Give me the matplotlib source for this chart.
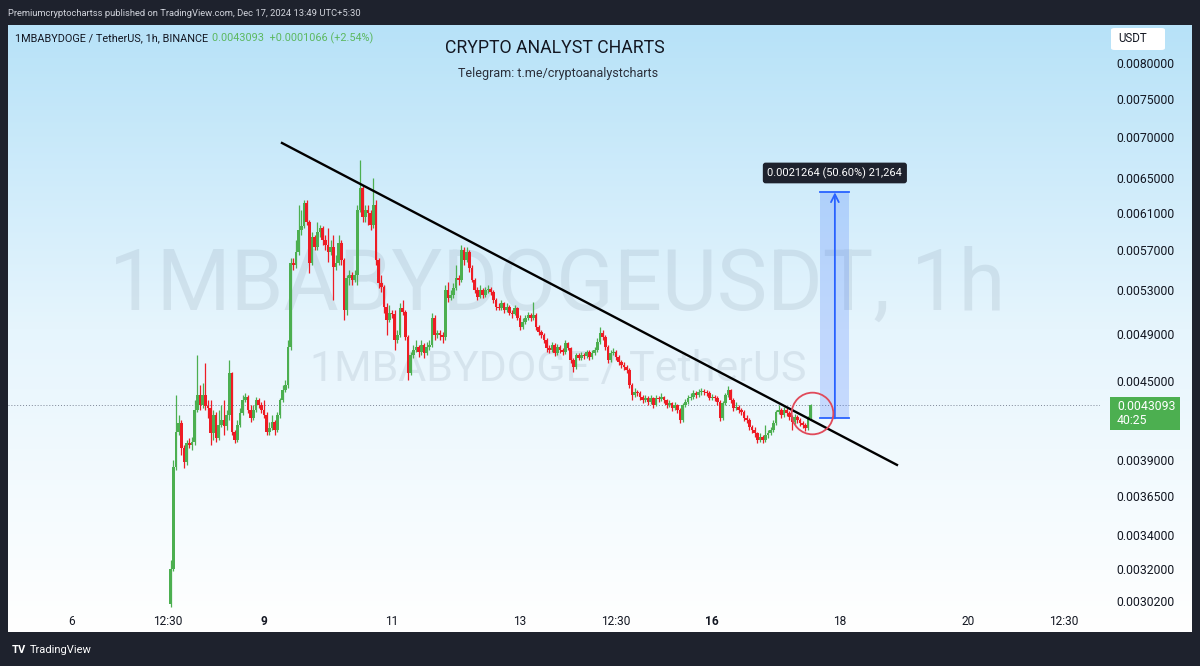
import numpy as np
import matplotlib.pyplot as plt
from matplotlib.colors import LinearSegmentedColormap
from matplotlib.patches import Rectangle, FancyBboxPatch

plt.rcParams['font.family'] = ['Roboto', 'DejaVu Sans']

# hourly candles, prices in units of 1e-4 USDT
first_open_e4 = 30.00
close_e4 = [
    32.00, 38.49, 41.00, 41.68, 39.84, 38.84, 40.20, 40.05, 40.27, 42.67,
    43.85, 43.06, 43.85, 42.98, 42.83, 40.93, 42.29, 40.56, 41.53, 41.91,
    41.46, 42.29, 45.63, 41.00, 40.42, 41.53, 42.44, 43.45, 43.69, 42.67,
    42.06, 42.67, 43.45, 43.06, 42.67, 42.29, 41.00, 41.31, 41.76, 41.15,
    42.29, 43.45, 44.24, 44.65, 47.83, 55.69, 55.49, 56.81, 59.12, 59.55,
    62.08, 59.98, 55.69, 58.38, 57.33, 58.91, 59.34, 58.06, 57.54, 56.81,
    57.33, 55.29, 55.69, 57.75, 55.99, 51.14, 54.20, 54.49, 54.00, 54.49,
    61.30, 63.80, 60.52, 61.30, 60.97, 59.66, 61.86, 55.99, 53.71, 53.32,
    51.42, 50.22, 50.86, 50.77, 48.43, 48.87, 51.33, 50.96, 48.70, 45.63,
    47.14, 47.57, 47.83, 47.40, 48.00, 47.31, 47.83, 48.00, 50.40, 48.87,
    49.05, 48.87, 48.70, 53.03, 52.27, 52.55, 53.22, 54.20, 54.00, 57.02,
    55.99, 56.81, 55.19, 54.00, 53.03, 52.36, 53.03, 52.55, 53.03, 53.10,
    52.84, 52.08, 51.42, 51.33, 51.80, 51.14, 51.42, 50.86, 50.80, 51.33,
    50.40, 49.59, 50.04, 50.40, 50.68, 50.40, 50.68, 49.59, 49.14, 48.87,
    48.43, 47.74, 47.57, 48.00, 47.31, 47.83, 47.57, 47.40, 48.17, 47.74,
    46.71, 46.13, 47.14, 46.88, 47.14, 47.05, 47.40, 46.97, 47.31, 47.57,
    48.26, 49.05, 48.70, 47.83, 46.71, 47.31, 47.40, 46.97, 46.54, 46.29,
    46.13, 45.88, 44.65, 43.85, 44.08, 44.01, 43.69, 43.45, 43.61, 43.30,
    43.61, 43.06, 43.61, 43.55, 43.69, 43.45, 43.06, 43.22, 42.83, 43.06,
    42.67, 41.91, 43.06, 43.30, 43.61, 43.69, 44.01, 43.85, 44.08, 44.12,
    44.05, 44.01, 43.61, 43.69, 43.61, 43.30, 42.06, 43.22, 43.85, 44.24,
    43.45, 42.83, 42.90, 42.67, 42.52, 42.06, 41.91, 41.38, 41.15, 40.93,
    40.42, 40.63, 40.42, 40.78, 40.93, 41.15, 41.68, 42.52, 42.67, 42.29,
    42.67, 42.44, 42.14, 41.76, 42.14, 41.91, 41.68, 41.53, 41.31, 42.03,
    43.093]
high_e4 = [
    32.54, 38.98, 43.85, 42.29, 41.91, 40.05, 40.42, 40.56, 40.63, 43.45,
    47.14, 44.65, 44.80, 46.50, 43.45, 43.45, 42.67, 42.52, 42.67, 43.06,
    43.45, 42.67, 46.71, 45.71, 41.15, 41.91, 42.83, 43.85, 44.01, 43.85,
    43.06, 43.06, 43.69, 43.61, 43.30, 43.45, 42.52, 41.76, 42.29, 41.91,
    42.52, 43.61, 44.65, 45.05, 48.43, 56.19, 56.19, 58.06, 61.86, 61.30,
    62.42, 62.42, 60.20, 58.91, 58.59, 59.98, 59.66, 59.55, 58.59, 59.34,
    58.06, 58.59, 56.50, 58.59, 58.06, 56.19, 54.49, 54.98, 54.79, 54.98,
    61.86, 67.11, 64.15, 61.86, 61.86, 61.30, 64.97, 62.42, 56.19, 54.49,
    53.51, 51.80, 51.61, 51.14, 51.14, 49.32, 51.80, 52.08, 51.14, 48.87,
    47.40, 48.00, 48.43, 48.00, 48.43, 48.17, 48.26, 48.43, 50.86, 50.68,
    49.32, 49.32, 49.14, 53.51, 53.80, 53.03, 53.71, 55.49, 54.49, 57.54,
    57.33, 57.33, 57.02, 55.49, 54.20, 53.32, 53.51, 53.22, 53.32, 53.51,
    53.32, 53.03, 52.27, 51.80, 52.08, 51.89, 51.80, 51.61, 51.14, 51.61,
    51.42, 50.68, 50.40, 50.68, 50.96, 50.86, 51.89, 50.86, 49.77, 49.32,
    49.05, 48.61, 48.00, 48.26, 48.17, 48.08, 48.00, 47.74, 48.43, 48.26,
    47.83, 46.88, 47.31, 47.31, 47.40, 47.31, 47.57, 47.57, 47.57, 47.83,
    48.61, 49.59, 49.32, 48.87, 48.00, 47.57, 47.74, 47.57, 47.14, 46.71,
    46.54, 46.29, 46.05, 44.81, 44.41, 44.24, 44.16, 43.85, 43.85, 43.77,
    43.85, 43.69, 43.85, 43.77, 44.01, 43.77, 43.53, 43.45, 43.30, 43.30,
    43.14, 42.83, 43.22, 43.53, 43.85, 44.01, 44.24, 44.16, 44.33, 44.41,
    44.33, 44.24, 44.16, 43.93, 43.85, 43.77, 43.45, 43.38, 44.01, 44.57,
    44.33, 43.61, 43.30, 43.06, 42.83, 42.67, 42.29, 42.06, 41.53, 41.38,
    41.00, 40.93, 40.78, 41.53, 41.15, 41.38, 41.91, 42.67, 43.06, 42.83,
    42.90, 42.83, 42.59, 42.29, 42.37, 42.29, 42.06, 41.83, 41.68, 42.21,
    43.14]
low_e4 = [
    29.89, 31.88, 38.28, 40.78, 39.34, 38.42, 38.63, 39.84, 39.69, 40.05,
    42.52, 42.67, 42.83, 42.67, 42.06, 40.05, 40.42, 40.27, 40.42, 41.38,
    40.78, 41.15, 41.91, 40.78, 40.20, 40.27, 41.38, 42.29, 43.30, 42.44,
    41.76, 41.91, 42.52, 42.83, 42.44, 42.06, 40.78, 40.78, 41.15, 40.78,
    41.00, 42.06, 43.30, 44.08, 44.41, 47.57, 54.98, 55.19, 56.50, 58.59,
    59.34, 59.66, 54.69, 55.49, 57.02, 57.02, 58.38, 57.54, 57.02, 55.79,
    56.50, 52.08, 54.98, 55.49, 55.49, 50.22, 50.68, 53.51, 53.51, 53.80,
    53.51, 61.08, 59.98, 59.98, 59.66, 59.12, 59.34, 55.49, 53.22, 52.84,
    50.86, 48.87, 50.04, 50.40, 47.57, 48.17, 48.70, 50.68, 48.43, 45.05,
    45.46, 46.88, 47.40, 46.97, 47.14, 46.88, 47.14, 47.57, 47.83, 48.43,
    48.61, 48.43, 48.17, 48.43, 51.89, 52.08, 52.27, 53.03, 53.51, 53.80,
    55.49, 55.79, 54.79, 53.80, 52.74, 52.08, 52.27, 52.27, 52.36, 52.74,
    52.55, 51.80, 51.14, 51.14, 51.14, 50.86, 50.96, 50.68, 50.40, 50.68,
    50.22, 49.32, 49.41, 49.86, 50.22, 50.13, 50.22, 49.32, 48.87, 48.61,
    48.17, 47.40, 47.31, 47.40, 47.05, 47.14, 47.31, 47.14, 47.22, 47.57,
    46.46, 45.71, 45.97, 46.71, 46.71, 46.80, 46.88, 46.71, 46.80, 47.14,
    47.40, 48.08, 48.43, 47.57, 46.46, 46.54, 47.14, 46.71, 46.29, 46.05,
    45.88, 45.63, 44.41, 43.45, 43.69, 43.77, 43.45, 43.22, 43.30, 43.06,
    43.14, 42.83, 42.98, 43.30, 43.38, 43.22, 42.83, 42.90, 42.59, 42.67,
    42.44, 41.68, 41.76, 42.90, 43.14, 43.45, 43.53, 43.61, 43.69, 43.85,
    43.85, 43.77, 43.45, 43.45, 43.38, 43.06, 41.83, 41.91, 43.06, 43.69,
    43.22, 42.59, 42.67, 42.44, 42.29, 41.83, 41.68, 41.15, 40.93, 40.63,
    40.20, 40.27, 40.20, 40.27, 40.56, 40.78, 41.00, 41.53, 42.37, 42.06,
    42.14, 42.21, 41.91, 41.15, 41.61, 41.68, 41.46, 41.31, 41.08, 41.15,
    41.91]

first_day = 7.5417          # Dec 7, ~13:00 (x axis in days of December)
tick_days = [6, 7.5, 9, 11, 13, 14.5, 16, 18, 20, 21.5]
tick_labels = ['6', '12:30', '9', '11', '13', '12:30', '16', '18', '20', '12:30']
bold_ticks = ['9', '16']
price_ticks = [0.0080, 0.0075, 0.0070, 0.0065, 0.0061, 0.0057, 0.0053, 0.0049,
               0.0045, 0.0039, 0.00365, 0.0034, 0.0032, 0.00302]

last_price = 0.0043093
prev_close = 0.0042027
move = 0.0021264
trend_x = [9.281, 18.89]
trend_y = [0.006921, 0.003863]
measure_x = [17.69, 17.92, 18.14]
circle_xy = (17.5625, 0.004244)

closes = np.array(close_e4) * 1e-4
highs = np.array(high_e4) * 1e-4
lows = np.array(low_e4) * 1e-4
opens = np.concatenate([[first_open_e4 * 1e-4], closes[:-1]])
highs = np.maximum(highs, np.maximum(opens, closes))
lows = np.minimum(lows, np.minimum(opens, closes))
days = first_day + np.arange(len(closes)) / 24.0

W, H = 1200, 666
fig = plt.figure(figsize=(12, 6.66), dpi=100)
fig.patch.set_facecolor('#1e222d')


def fx(px):
    return px / W


def fy(py):
    return 1 - py / H


# panel background gradient
bg = fig.add_axes([fx(8), fy(632), fx(1192) - fx(8), fy(25) - fy(632)])
cmap = LinearSegmentedColormap.from_list('bg', ['#b7e2f8', '#e6f5fd', '#ffffff'])
bg.imshow(np.linspace(0, 1, 256).reshape(-1, 1), aspect='auto', cmap=cmap,
          extent=[0, 1, 0, 1], origin='upper')
bg.axis('off')

ax = fig.add_axes([fx(8), fy(608), fx(1100) - fx(8), fy(25) - fy(608)])
ax.set_facecolor('none')
ax.set_yscale('log')
ax.set_xlim(5.0, 22.0625)
ax.set_ylim(0.002981, 0.00857)
for s in ax.spines.values():
    s.set_visible(False)

# watermarks
ax.text(0.503, 0.511, '1MBABYDOGEUSDT, 1h', transform=ax.transAxes, ha='center',
        va='baseline', fontsize=61, color='#7d8fa2', alpha=0.17, zorder=0)
ax.text(0.504, 0.389, '1MBABYDOGE / TetherUS', transform=ax.transAxes, ha='center',
        va='baseline', fontsize=31, color='#7d8fa2', alpha=0.17, zorder=0)

# candles
up = closes >= opens
colors = np.where(up, '#4caf50', '#ee1c25')
bottoms = np.minimum(opens, closes)
heights = np.maximum(np.abs(closes - opens), bottoms * 0.002)
ax.vlines(days, lows, highs, colors=colors, linewidth=0.9, zorder=2)
ax.bar(days, heights, bottom=bottoms, width=0.037, color=colors, linewidth=0, zorder=3)

ax.axhline(last_price, color='#7d8696', linestyle=(0, (1, 2)), linewidth=0.7, zorder=1)

# trend line
ax.plot(trend_x, trend_y, color='black', linewidth=1.7, zorder=4)

# measure tool
ax.add_patch(Rectangle((measure_x[0], prev_close), measure_x[2] - measure_x[0], move,
                       facecolor='#2962ff', alpha=0.2, edgecolor='none', zorder=1))
ax.plot([measure_x[0], measure_x[2]], [prev_close, prev_close], color='#2962ff', lw=1.3, zorder=4)
ax.plot([measure_x[0], measure_x[2]], [prev_close + move] * 2, color='#2962ff', lw=1.3, zorder=4)
ax.annotate('', xy=(measure_x[1], prev_close + move), xytext=(measure_x[1], prev_close),
            arrowprops=dict(arrowstyle='->', color='#2962ff', lw=1.3, shrinkA=0, shrinkB=0,
                            mutation_scale=14), zorder=4)
ax.text(measure_x[1], 0.006555, '0.0021264 (50.60%) 21,264', ha='center', va='center',
        fontsize=7.9, color='white', zorder=6,
        bbox=dict(boxstyle='round,pad=0.42,rounding_size=0.25', fc='#1e222d', ec='none'))

# circle around breakout
ax.plot([circle_xy[0]], [circle_xy[1]], marker='o', markersize=30, markerfacecolor='none',
        markeredgecolor='#e04a5a', markeredgewidth=1.3, zorder=5)

# axes ticks
ax.yaxis.tick_right()
ax.set_yticks(price_ticks)
ax.set_yticklabels(['%.7f' % p for p in price_ticks])
ax.yaxis.set_minor_locator(plt.NullLocator())
ax.tick_params(axis='y', length=0, pad=12, labelsize=8.8, labelcolor='#131722')
ax.set_xticks(tick_days)
ax.set_xticklabels(tick_labels)
ax.tick_params(axis='x', length=0, pad=5, labelsize=8.6, labelcolor='#131722')
for lab in ax.get_xticklabels():
    if lab.get_text() in bold_ticks:
        lab.set_fontweight('bold')

# header / footer / legend texts
fig.text(fx(8), fy(13), 'Premiumcryptochartss published on TradingView.com, Dec 17, 2024 13:49 UTC+5:30',
         ha='left', va='center', fontsize=6.75, color='#d1d4dc')
fig.text(fx(15), fy(38), '1MBABYDOGE / TetherUS, 1h, BINANCE', ha='left', va='center',
         fontsize=7.8, color='#131722')
fig.text(fx(212), fy(38), '0.0043093  +0.0001066 (+2.54%)', ha='left', va='center',
         fontsize=7.8, color='#5cb860')
fig.text(fx(555), fy(48), 'CRYPTO ANALYST CHARTS', ha='center', va='center',
         fontsize=12.7, color='#131722')
fig.text(fx(558), fy(74), 'Telegram: t.me/cryptoanalystcharts', ha='center', va='center',
         fontsize=9, color='#2a2e39')
fig.text(fx(12), fy(650), 'TV', ha='left', va='center', fontsize=8, fontweight='bold',
         color='white')
fig.text(fx(30), fy(650), 'TradingView', ha='left', va='center', fontsize=8, color='white')

# price axis boxes
fig.patches.append(FancyBboxPatch((fx(1111), fy(50)), fx(54), fy(28) - fy(50),
                                  boxstyle='round,pad=0,rounding_size=0.003',
                                  transform=fig.transFigure, fc='white', ec='none', zorder=5))
fig.text(fx(1118), fy(39), 'USDT', ha='left', va='center', fontsize=8.3, color='#131722', zorder=6)
fig.patches.append(Rectangle((fx(1110), fy(430)), fx(70), fy(397) - fy(430),
                             transform=fig.transFigure, fc='#4caf50', ec='none', zorder=5))
fig.text(fx(1117), fy(406), '0.0043093', ha='left', va='center', fontsize=8.8, color='white', zorder=6)
fig.text(fx(1117), fy(421), '40:25', ha='left', va='center', fontsize=8.8, color='white', zorder=6)

fig.savefig('out.png', dpi=100, facecolor=fig.get_facecolor())
